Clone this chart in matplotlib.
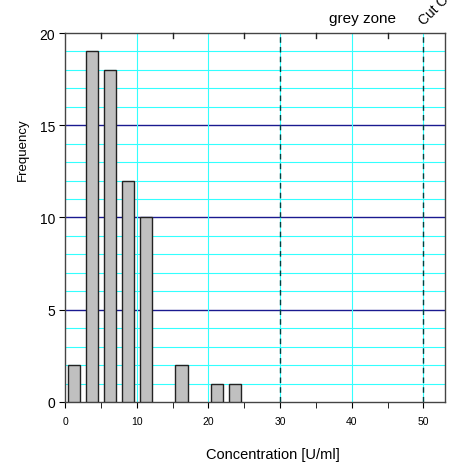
import numpy as np
import matplotlib.pyplot as plt

plt.rcParams['font.family'] = ['Liberation Sans', 'DejaVu Sans']

# histogram data (bin centres, counts)
centers = [1.25, 3.75, 6.25, 8.75, 11.25, 16.25, 21.25, 23.75]
counts = [2, 19, 18, 12, 10, 2, 1, 1]
grey_zone = 30
cut_off = 50

fig = plt.figure(figsize=(4.55, 4.64), dpi=100)
ax = fig.add_axes([0.143, 0.1315, 0.835, 0.7952])

# grid
for y in range(1, 20):
    if y % 5 == 0:
        ax.axhline(y, color='#1a1a90', lw=1.0, zorder=1, snap=True)
    else:
        ax.axhline(y, color='#33ffff', lw=0.8, zorder=1)
for x in [10, 20, 40]:
    ax.axvline(x, color='#33ffff', lw=0.8, zorder=1)
for x in [grey_zone, cut_off]:
    ax.axvline(x, color='#33ffff', lw=0.8, zorder=1)
    ax.axvline(x, color='#004040', lw=1.0, ls=(0, (4, 3)), zorder=2)

ax.bar(centers, counts, width=1.7, color='#c0c0c0', edgecolor='#222222', lw=1, zorder=3)

ax.set_xlim(0, 53)
ax.set_ylim(0, 20)
ax.set_xticks(np.arange(0, 51, 10))
ax.set_xticks(np.arange(5, 51, 10), minor=True)
ax.set_yticks([0, 5, 10, 15, 20])
ax.tick_params(axis='x', labelsize=7.5, length=4, direction='out', pad=6)
ax.tick_params(axis='x', which='minor', length=4, direction='out')
ax.tick_params(axis='y', labelsize=10, length=4, direction='out', pad=3)
for s in ax.spines.values():
    s.set_color('#444444')
    s.set_linewidth(1)

# top inward ticks
for x in np.arange(5, 51, 10):
    ax.plot([x, x], [20, 19.75], color='#222222', lw=1, clip_on=False, zorder=4)

ax.set_xlabel('Concentration [U/ml]', fontsize=10.5)
ax.xaxis.set_label_coords(0.547, -0.122)
ax.set_ylabel('Frequency', fontsize=9.5)
ax.yaxis.set_label_coords(-0.094, 0.686)

ax.text(41.5, 20.45, 'grey zone', fontsize=11, ha='center', va='bottom')
ax.text(50.3, 20.3, 'Cut Off', fontsize=10, ha='left', va='bottom', rotation=45,
        rotation_mode='anchor')

fig.savefig('out.png', dpi=100)
